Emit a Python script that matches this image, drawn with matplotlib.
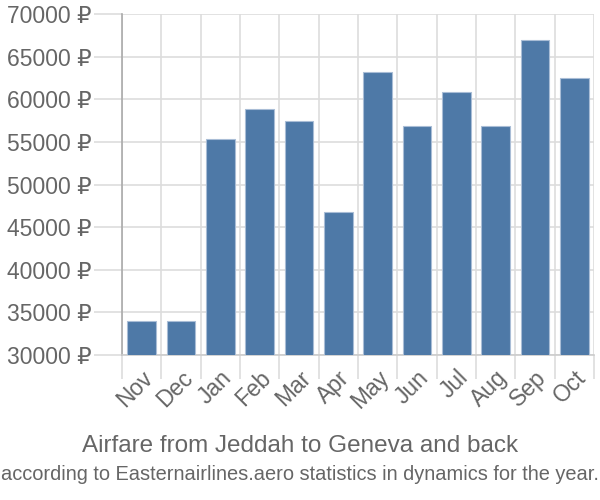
import numpy as np
import matplotlib.pyplot as plt

months = ['Nov', 'Dec', 'Jan', 'Feb', 'Mar', 'Apr', 'May', 'Jun', 'Jul', 'Aug', 'Sep', 'Oct']
prices = [33950, 33950, 55300, 58850, 57450, 46800, 63200, 56900, 60800, 56900, 66900, 62550]
yticks = [30000, 35000, 40000, 45000, 50000, 55000, 60000, 65000, 70000]

plt.rcParams['font.family'] = ['Liberation Sans', 'DejaVu Sans']

fig = plt.figure(figsize=(6, 5), dpi=100)
ax = fig.add_axes([122/600, 145/500, 472/600, 341/500])

x = np.arange(len(months))
ax.bar(x, prices, width=0.73, color='#4e79a7', edgecolor='#a9bdd6', linewidth=0.8, zorder=3)

ax.set_xlim(-0.5, len(months) - 0.5)
ax.set_ylim(30000, 70000)
ax.set_yticks(yticks)
ax.set_yticklabels([f'{v} ₽' for v in yticks], fontsize=16.5, color='#666666')
ax.set_xticks(x)
ax.set_xticklabels(months, rotation=45, ha='right', rotation_mode='anchor', fontsize=16.5, color='#666666')
ax.set_xticks(np.arange(-0.5, len(months)), minor=True)
ax.tick_params(axis='x', which='major', length=0, pad=8)
ax.tick_params(axis='x', which='minor', length=17, color='#dddddd', width=1.2)
ax.tick_params(axis='y', length=20, color='#dddddd', width=1.2, pad=2)
ax.grid(axis='x', which='minor', color='#dddddd', linewidth=1.2, zorder=0)
ax.grid(axis='y', color='#dddddd', linewidth=1.2, zorder=0)

for s in ['top', 'right']:
    ax.spines[s].set_visible(False)
ax.spines['left'].set_color('#aaaaaa')
ax.spines['left'].set_linewidth(1.2)
ax.spines['bottom'].set_color('#cccccc')
ax.spines['bottom'].set_linewidth(1.2)

fig.text(0.5, 1 - 446/500, 'Airfare from Jeddah to Geneva and back', ha='center', va='center',
         fontsize=17.5, color='#666666')
fig.text(0.5, 1 - 474/500, 'according to Easternairlines.aero statistics in dynamics for the year.',
         ha='center', va='center', fontsize=14.4, color='#666666')

fig.savefig('out.png', dpi=100)
